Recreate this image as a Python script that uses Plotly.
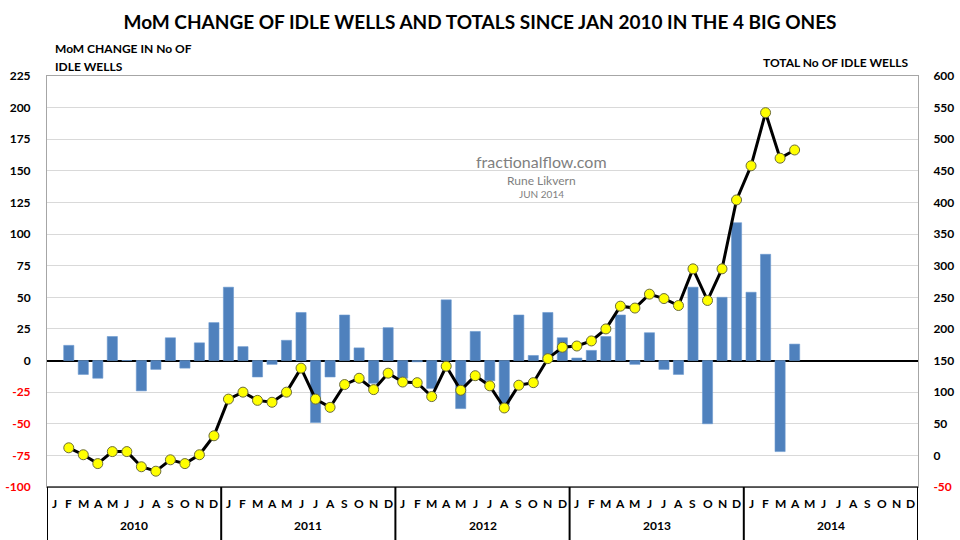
import plotly.graph_objects as go

# ---------------- data ----------------
MONTH_LETTERS = ["J", "F", "M", "A", "M", "J", "J", "A", "S", "O", "N", "D"]
YEARS = [2010, 2011, 2012, 2013, 2014]
FIRST_MONTH_INDEX = 1  # data start in Feb 2010 (Jan 2010 = index 0)

# month-over-month change in number of idle wells (left axis)
mom_change = [
    12, -11, -14, 19, 0, -24, -7, 18, -6, 14, 30,            # 2010 Feb-Dec
    58, 11, -13, -3, 16, 38, -49, -13, 36, 10, -18, 26,      # 2011
    -14, -1, -22, 48, -38, 23, -16, -35, 36, 4, 38, 18,      # 2012
    2, 8, 19, 36, -3, 22, -7, -11, 58, -50, 50, 109,         # 2013
    54, 84, -72, 13,                                         # 2014 Jan-Apr
]

# total number of idle wells (right axis)
total_idle = [
    12, 1, -13, 6, 6, -18, -25, -7, -13, 1, 31,
    89, 100, 87, 84, 100, 138, 89, 76, 112, 122, 104, 130,
    116, 115, 93, 141, 103, 126, 110, 75, 111, 115, 153, 171,
    173, 181, 200, 236, 233, 255, 248, 237, 295, 245, 295, 404,
    458, 542, 470, 483,
]

left_ticks = list(range(-100, 226, 25))
right_ticks = list(range(-50, 601, 50))

# ---------------- figure ----------------
x_pos = [FIRST_MONTH_INDEX + i for i in range(len(mom_change))]
n_months = 12 * len(YEARS)

FONT = "Lato"
BAR_COLOR = "#4F81BD"


def tick_text(v):
    s = str(v)
    if v < 0:
        return f"<span style='color:#FF0000'>{s}</span>"
    return s


fig = go.Figure()

fig.add_trace(go.Bar(
    x=x_pos, y=mom_change, yaxis="y",
    marker=dict(color=BAR_COLOR, line=dict(color="#6C9AD0", width=0.6)),
    name="MoM change", showlegend=False,
))

fig.add_trace(go.Scatter(
    x=x_pos, y=total_idle, yaxis="y2", mode="lines+markers",
    line=dict(color="#000000", width=3),
    marker=dict(symbol="circle", size=10, color="#FFFF00",
                line=dict(color="#6B6B3A", width=1)),
    name="Total", showlegend=False,
))

fig.update_layout(
    width=960, height=540,
    margin=dict(l=47, r=42, t=76, b=53, autoexpand=False),
    paper_bgcolor="white", plot_bgcolor="white",
    bargap=0.3,
    font=dict(family=FONT, color="#000000"),
    title=dict(
        text="MoM CHANGE OF IDLE WELLS AND TOTALS SINCE JAN 2010 IN THE 4 BIG ONES",
        x=0.5, xref="container", xanchor="center",
        y=1 - 22 / 540, yref="container", yanchor="middle",
        font=dict(family=FONT, size=19, color="#000000", weight="bold"),
    ),
    xaxis=dict(
        range=[-0.5, n_months - 0.5],
        showticklabels=False, ticks="", showgrid=False, zeroline=False,
        showline=True, linecolor="#A6A6A6", linewidth=1, mirror=True,
        fixedrange=True, automargin=False,
    ),
    yaxis=dict(
        range=[-100, 225], automargin=False,
        tickvals=left_ticks, ticktext=[tick_text(v) for v in left_ticks],
        tickfont=dict(family=FONT, size=12, color="#000000", weight="bold"),
        ticks="outside", ticklen=13, tickcolor="rgba(0,0,0,0)",
        showgrid=True, gridcolor="#D9D9D9", gridwidth=1,
        zeroline=True, zerolinecolor="#000000", zerolinewidth=2,
        showline=True, linecolor="#A6A6A6", linewidth=1,
    ),
    yaxis2=dict(
        range=[-50, 600], overlaying="y", side="right", automargin=False,
        tickvals=right_ticks, ticktext=[tick_text(v) for v in right_ticks],
        tickfont=dict(family=FONT, size=12, color="#000000", weight="bold"),
        ticks="outside", ticklen=12, tickcolor="rgba(0,0,0,0)",
        showgrid=False, zeroline=False,
        showline=True, linecolor="#A6A6A6", linewidth=1,
    ),
)

annotations = []
# month letters
for i in range(n_months):
    annotations.append(dict(
        x=i, xref="x", y=-16 / 411, yref="paper",
        text=MONTH_LETTERS[i % 12], showarrow=False,
        xanchor="center", yanchor="middle",
        font=dict(family=FONT, size=12, color="#000000", weight="bold"),
    ))
# year labels
for k, yr in enumerate(YEARS):
    annotations.append(dict(
        x=12 * k + 5.5, xref="x", y=-38 / 411, yref="paper",
        text=str(yr), showarrow=False,
        xanchor="center", yanchor="middle",
        font=dict(family=FONT, size=12, color="#000000", weight="bold"),
    ))
# axis titles
annotations += [
    dict(x=6 / 871, xref="paper", y=(487 - 48) / 411, yref="paper",
         text="MoM CHANGE IN No OF", showarrow=False, xanchor="left", yanchor="middle",
         font=dict(family=FONT, size=12, color="#000000", weight="bold")),
    dict(x=6 / 871, xref="paper", y=(487 - 66) / 411, yref="paper",
         text="IDLE WELLS", showarrow=False, xanchor="left", yanchor="middle",
         font=dict(family=FONT, size=12, color="#000000", weight="bold")),
    dict(x=(910 - 47) / 871, xref="paper", y=(487 - 63) / 411, yref="paper",
         text="TOTAL No OF IDLE WELLS", showarrow=False, xanchor="right", yanchor="middle",
         font=dict(family=FONT, size=12, color="#000000", weight="bold")),
]
# watermark
annotations += [
    dict(x=(541 - 47) / 871, xref="paper", y=(487 - 161) / 411, yref="paper",
         text="fractionalflow.com", showarrow=False, xanchor="center", yanchor="middle",
         font=dict(family=FONT, size=16, color="#7F7F7F")),
    dict(x=(541 - 47) / 871, xref="paper", y=(487 - 180) / 411, yref="paper",
         text="Rune Likvern", showarrow=False, xanchor="center", yanchor="middle",
         font=dict(family=FONT, size=12, color="#7F7F7F")),
    dict(x=(541 - 47) / 871, xref="paper", y=(487 - 194) / 411, yref="paper",
         text="JUN 2014", showarrow=False, xanchor="center", yanchor="middle",
         font=dict(family=FONT, size=10, color="#7F7F7F")),
]
fig.update_layout(annotations=annotations)

shapes = []
# bottom border of plot area
shapes.append(dict(type="line", xref="x", yref="paper", x0=-0.5, x1=n_months - 0.5,
                   y0=0, y1=0, line=dict(color="#333333", width=1.5)))
# year separators
for k in range(len(YEARS) + 1):
    xv = 12 * k - 0.5
    shapes.append(dict(type="line", xref="x", yref="paper", x0=xv, x1=xv,
                       y0=0, y1=-0.135, line=dict(color="#000000", width=2)))
fig.update_layout(shapes=shapes)

fig.write_html("out.html",
               config={"displayModeBar": False},
               post_script="document.body.style.margin='0';document.body.style.padding='0';")
